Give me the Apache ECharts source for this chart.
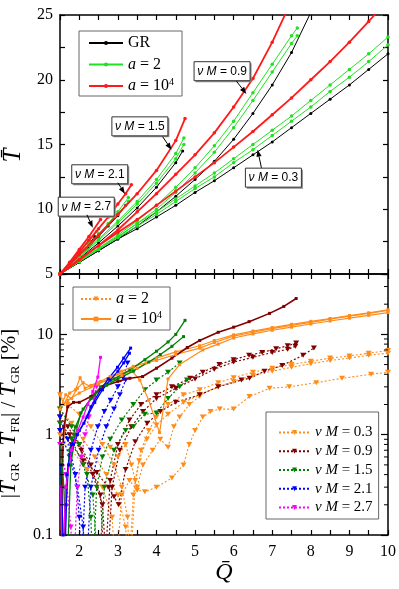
<!DOCTYPE html>
<html><head><meta charset="utf-8">
<script src="https://cdn.jsdelivr.net/npm/echarts@6/dist/echarts.min.js"></script>
<style>html,body{margin:0;padding:0;background:#fff}#c{width:399px;height:589px}</style>
</head><body><div id="c"></div>
<script>
// ---------------- axis ranges / ticks ----------------
const X_MIN = 1.5, X_MAX = 10;
const T_MIN = 5, T_MAX = 25;
const P_MIN = 0.1, P_MAX = 40;
const LOG_MINOR = [0.2,0.3,0.4,0.5,0.6,0.7,0.8,0.9,2,3,4,5,6,7,8,9,20,30];

// ---------------- top panel: T vs Q ----------------
const Q_FULL = [1.5,2,2.5,3,3.5,4,4.5,5,5.5,6,6.5,7,7.5,8,8.5,9,9.5,10];
const T_GR_03  = [5,5.9,6.8,7.7,8.5,9.4,10.3,11.3,12.2,13.2,14.2,15.2,16.3,17.4,18.5,19.6,20.8,22.0];
const T_A2_03a = [5,6.0,7.0,7.9,8.9,9.8,10.8,11.8,12.8,13.9,15.0,16.1,17.2,18.4,19.6,20.8,22.0,23.3];
const T_A2_03b = [5,5.95,6.9,7.8,8.7,9.6,10.6,11.6,12.5,13.6,14.6,15.7,16.8,17.9,19.1,20.2,21.4,22.7];
const T_A4_03  = [5,6.1,7.2,8.2,9.2,10.3,11.4,12.5,13.6,14.8,16.0,17.3,18.6,20.0,21.4,22.9,24.5,26.2];

const Q_09_GR = [1.5,2,2.5,3,3.5,4,4.5,5,5.5,6,6.5,7,7.5,8,8.5];
const T_GR_09 = [5,5.9,6.8,7.7,8.7,9.8,11.0,12.3,13.7,15.4,17.4,19.6,22.1,25.2,28.6];
const Q_09_A2 = [1.5,2,2.5,3,3.5,4,4.5,5,5.5,6,6.5,7,7.5,7.65];
const T_A2_09a = [5,6.0,7.0,8.0,9.1,10.3,11.7,13.2,14.9,16.8,19.0,21.2,23.4,24.0];
const T_A2_09b = [5,5.95,6.9,7.85,8.9,10.0,11.3,12.8,14.4,16.3,18.4,20.6,22.8,23.4];
const Q_09_A4 = [1.5,2,2.5,3,3.5,4,4.5,5,5.5,6,6.5,7,7.5];
const T_A4_09 = [5,6.1,7.2,8.4,9.8,11.2,12.7,14.2,15.9,17.9,20.1,22.9,26.1];

const Q_15_GR = [1.5,2,2.5,3,3.5,4,4.5,4.68];
const T_GR_15 = [5,6.2,7.4,8.7,10.1,11.7,13.6,14.5];
const Q_15_A2 = [1.5,2,2.5,3,3.5,4,4.5,4.71];
const T_A2_15a = [5,6.3,7.7,9.1,10.6,12.3,14.3,15.5];
const T_A2_15b = [5,6.25,7.6,8.95,10.4,12.0,13.9,15.0];
const Q_15_A4 = [1.5,2,2.5,3,3.5,4,4.5,4.74];
const T_A4_15 = [5,6.5,8.0,9.6,11.2,13.0,15.3,17.0];

const Q_21_GR = [1.5,1.75,2,2.25,2.5,2.75,3,3.2];
const T_GR_21 = [5,5.7,6.4,7.1,7.9,8.7,9.5,10.3];
const Q_21_A2 = [1.5,1.75,2,2.25,2.5,2.75,3,3.27];
const T_A2_21a = [5,5.75,6.5,7.3,8.1,8.9,9.8,10.9];
const T_A2_21b = [5,5.7,6.45,7.2,8.0,8.8,9.6,10.6];
const Q_21_A4 = [1.5,1.75,2,2.25,2.5,2.75,3,3.2,3.35];
const T_A4_21 = [5,5.8,6.7,7.6,8.5,9.4,10.4,11.2,11.9];

const Q_27_GR = [1.5,1.75,2,2.25,2.4];
const T_GR_27 = [5,5.75,6.5,7.3,7.9];
const Q_27_A2 = [1.5,1.75,2,2.25,2.45];
const T_A2_27 = [5,5.8,6.6,7.5,8.3];
const Q_27_A4 = [1.5,1.75,2,2.25,2.55];
const T_A4_27 = [5,5.9,6.9,7.9,9.2];

// annotation boxes (data coordinates)
const ANNO_TEXT = ['0.9','0.3','1.5','2.1','2.7'];
const ANNO_BOX  = [[5.70,20.66],[7.03,12.44],[3.57,16.4],[2.53,12.7],[2.18,10.2]];
const ANNO_FROM = [[6.07,19.9],[6.72,13.2],[4.16,15.6],[3.0,12.05],[2.2,9.57]];
const ANNO_TIP  = [[6.33,18.9],[6.62,14.6],[4.39,14.6],[3.18,11.2],[2.35,8.57]];

// ---------------- bottom panel: relative difference [%] ----------------
// nuM = 0.3, a = 1e4 (solid)
const BQ_OS1 = [1.5,1.6,1.75,1.9,2.02,2.15,2.3,2.55,2.8,3.1,3.4,3.73,4.0,4.5,5.12,5.5,6.0,6.5,7.0,7.5,8.0,8.5,9.0,9.5,10];
const BV_OS1 = [2.5,2.0,2.6,2.8,3.7,2.9,3.1,3.4,3.8,4.3,4.8,5.2,5.5,6.3,7.3,8.3,9.6,10.5,11.4,12.3,13.2,14.2,15.2,16.2,17.3];
const BQ_OS2 = [1.5,1.65,1.8,1.95,2.1,2.3,2.5,2.8,3.1,3.35,3.57,3.8,4.08,4.3,4.6,5.2,5.6,6.0,6.5,7.0,7.5,8.0,8.5,9.0,9.5,10];
const BV_OS2 = [1.8,2.5,2.3,2.9,3.3,3.0,3.3,3.5,3.9,4.4,3.5,2.2,1.05,3.6,5.0,7.0,8.0,9.2,10.1,11.0,11.8,12.7,13.6,14.5,15.5,16.5];
const BQ_OS3 = [1.52,1.58,1.7,2.0,2.5,3.0,3.5,4.0,4.5,5.12,5.5,6.0,6.5,7.0,7.5,8.0,8.5,9.0,9.5,10];
const BV_OS3 = [0.05,0.8,2.2,2.6,3.2,4.0,4.6,5.8,6.7,7.7,8.7,9.9,10.8,11.7,12.6,13.5,14.4,15.4,16.4,17.6];
// nuM = 0.3, a = 2 (dotted)
const BQ_OD1 = [1.5,1.7,2.0,2.3,2.6,2.9,3.1,3.25,3.32,3.45,3.6,3.8,4.0,4.3,4.7,5.12,5.6,6.0,6.5,7.0,7.5,8.0,8.5,9.0,9.5,10];
const BV_OD1 = [2.5,2.0,1.6,1.2,0.8,0.5,0.3,0.15,0.04,0.35,0.7,1.1,1.5,2.0,2.5,2.8,3.3,3.7,4.2,4.6,5.0,5.4,5.8,6.1,6.5,6.9];
const BQ_OD2 = [1.5,1.8,2.1,2.4,2.7,3.0,3.2,3.28,3.4,3.55,3.75,4.0,4.3,4.7,5.12,5.6,6.0,6.5,7.0,7.5,8.0,8.5,9.0,9.5,10];
const BV_OD2 = [1.8,1.3,0.9,0.6,0.4,0.25,0.12,0.04,0.25,0.55,0.9,1.25,1.6,2.1,2.5,3.0,3.4,3.9,4.3,4.7,5.1,5.5,5.8,6.2,6.5];
const BQ_OD3 = [1.5,1.8,2.2,2.6,2.85,2.95,3.1,3.3,3.5,3.7,4.0,4.4,4.7,4.85,5.0,5.2,5.4,5.64,6.0,6.41,6.93,7.44,8.14,8.81,9.56,10];
const BV_OD3 = [1.0,0.7,0.45,0.3,0.15,0.04,0.25,0.35,0.28,0.27,0.3,0.37,0.5,0.8,1.1,1.5,1.7,1.8,1.8,2.4,2.9,3.0,3.3,3.65,4.0,4.2];
const BQ_OD4 = [2.8,3.0,3.2,3.35,3.5,3.65,3.9,4.1,4.3,4.45,4.6,4.85,5.12];
const BV_OD4 = [0.75,0.6,0.8,0.5,0.3,0.5,0.7,0.9,0.75,1.2,1.5,2.0,2.4];
// nuM = 0.9
const BQ_RS1 = [1.52,1.56,1.6,1.7,1.85,2.0,2.3,2.6,3.0,3.31,3.64,4.0,4.4,4.8,5.12,5.6,6.0,6.4,6.93,7.3,7.62];
const BV_RS1 = [0.04,0.5,1.2,1.9,2.1,2.1,2.4,3.0,3.4,3.65,3.8,4.6,5.8,7.4,8.7,10.5,11.8,13.4,16.2,19.0,22.8];
const BQ_RD1 = [1.5,1.7,2.0,2.3,2.55,2.65,2.8,3.0,3.3,3.6,4.0,4.4,4.87,5.2,5.63,6.0,6.4,6.74,7.1,7.4,7.62];
const BV_RD1 = [1.5,1.2,0.8,0.5,0.25,0.04,0.35,0.8,1.4,2.0,2.5,3.0,3.65,4.2,5.0,5.6,6.2,6.6,7.2,7.7,8.2];
const BQ_RD2 = [1.5,1.75,2.05,2.35,2.6,2.72,2.85,3.05,3.35,3.65,4.0,4.5,5.0,5.5,6.0,6.5,7.0,7.4,7.6];
const BV_RD2 = [1.3,1.0,0.7,0.4,0.2,0.04,0.3,0.7,1.2,1.7,2.3,2.9,3.6,4.5,5.3,5.9,6.6,7.1,7.6];
const BQ_RD3 = [1.5,1.8,2.1,2.45,2.75,2.9,3.02,3.2,3.45,3.76,4.1,4.5,5.12,5.6,6.2,6.41,6.8,7.26,7.8,8.08];
const BV_RD3 = [1.1,0.8,0.55,0.42,0.3,0.24,0.2,0.45,0.85,1.3,1.7,2.1,2.5,3.0,3.5,3.65,4.3,4.9,6.2,7.3];
// nuM = 1.5
const BQ_GS1 = [1.52,1.6,1.68,1.78,1.9,2.04,2.3,2.55,2.9,3.31,3.7,4.0,4.3,4.5,4.74];
const BV_GS1 = [0.8,0.3,0.04,0.5,1.0,1.65,2.3,3.0,3.6,4.4,5.6,6.8,8.4,10.0,13.8];
const BQ_GS2 = [1.52,1.58,1.66,1.75,1.9,2.1,2.4,2.7,3.0,3.4,3.8,4.1,4.4,4.7];
const BV_GS2 = [0.5,0.04,0.3,0.7,1.2,1.8,2.5,3.1,3.6,4.3,5.3,6.3,7.6,9.5];
const BQ_GD1 = [1.5,1.8,2.0,2.2,2.3,2.35,2.45,2.6,2.8,3.1,3.4,3.7,4.0,4.3,4.6];
const BV_GD1 = [1.8,1.2,0.8,0.4,0.15,0.04,0.3,0.6,0.9,1.4,2.0,2.8,3.5,4.2,5.2];
const BQ_GD2 = [1.5,1.8,2.1,2.35,2.5,2.65,2.9,3.2,3.4,3.7,4.0,4.3,4.6,4.79];
const BV_GD2 = [1.3,0.9,0.5,0.25,0.04,0.3,0.7,1.1,1.2,1.6,1.65,2.3,3.0,3.5];
// nuM = 2.1
const BQ_BS1 = [1.52,1.58,1.62,1.68,1.8,1.95,2.12,2.3,2.55,2.75,2.99,3.15,3.33];
const BV_BS1 = [0.5,0.1,0.04,0.4,0.8,1.0,1.3,1.9,2.8,3.6,4.7,5.8,7.3];
const BQ_BS2 = [1.52,1.6,1.66,1.72,1.85,2.0,2.2,2.4,2.6,2.8,3.0,3.15,3.3];
const BV_BS2 = [0.3,0.04,0.2,0.5,0.8,1.1,1.5,2.1,2.8,3.5,4.3,5.2,6.5];
const BQ_BD1 = [1.5,1.7,1.9,2.0,2.05,2.15,2.3,2.48,2.65,2.81,3.0,3.13,3.25];
const BV_BD1 = [1.5,0.9,0.4,0.15,0.04,0.3,0.7,1.2,1.7,2.2,3.0,3.7,5.2];
const BQ_BD2 = [1.5,1.75,1.95,2.1,2.18,2.3,2.5,2.7,2.9,3.05,3.2];
const BV_BD2 = [1.1,0.6,0.3,0.12,0.04,0.3,0.7,1.2,1.8,2.5,3.5];
// nuM = 2.7
const BQ_MS1 = [1.52,1.56,1.65,1.8,1.96,2.1,2.22,2.35,2.48,2.55];
const BV_MS1 = [0.3,0.04,0.3,0.7,1.1,1.5,2.0,2.7,3.75,5.9];
const BQ_MD1 = [1.5,1.65,1.78,1.85,1.95,2.05,2.15,2.25,2.37,2.45];
const BV_MD1 = [0.8,0.4,0.12,0.04,0.3,0.6,1.0,1.5,2.3,3.0];

// ---------------- styling ----------------
const SERIF = "'Liberation Serif','DejaVu Serif',serif";
const SANS = "'Liberation Sans','DejaVu Sans',sans-serif";
const C_BLACK = '#000000', C_GREEN = '#22e022', C_RED = '#ff1a1a';
const C_OR = '#ff8c1a', C_DR = '#800000', C_GN = '#008000', C_BL = '#0000ff', C_MG = '#ff00ff';
const TRI = 'path://M0,0 L10,0 L5,8 Z';

const pairs = (q, v) => q.map((x, i) => [x, v[i]]);
const series = [];

function addTop(q, t, color, w, size, z) {
  series.push({type:'line', xAxisIndex:0, yAxisIndex:0, data:pairs(q,t), symbol:'circle', symbolSize:size,
    lineStyle:{color:color, width:w}, itemStyle:{color:color}, z:z, silent:true, animation:false});
}
function addBot(q, v, color, dotted, w) {
  series.push({type:'line', xAxisIndex:2, yAxisIndex:2, data:pairs(q,v),
    symbol: dotted ? TRI : 'rect', symbolSize: dotted ? [6,5] : 3,
    lineStyle:{color:color, width:w, type: dotted ? [2,2] : 'solid'}, itemStyle:{color:color},
    z: dotted ? 2 : 3, silent:true, animation:false});
}

// top: GR black, a=2 green, a=1e4 red
[[Q_FULL,T_GR_03],[Q_09_GR,T_GR_09],[Q_15_GR,T_GR_15],[Q_21_GR,T_GR_21],[Q_27_GR,T_GR_27]]
  .forEach(p => addTop(p[0], p[1], C_BLACK, 1, 3, 2));
[[Q_FULL,T_A2_03a],[Q_FULL,T_A2_03b],[Q_09_A2,T_A2_09a],[Q_09_A2,T_A2_09b],[Q_15_A2,T_A2_15a],[Q_15_A2,T_A2_15b],
 [Q_21_A2,T_A2_21a],[Q_21_A2,T_A2_21b],[Q_27_A2,T_A2_27]]
  .forEach(p => addTop(p[0], p[1], C_GREEN, 1, 3.5, 3));
[[Q_FULL,T_A4_03],[Q_09_A4,T_A4_09],[Q_15_A4,T_A4_15],[Q_21_A4,T_A4_21],[Q_27_A4,T_A4_27]]
  .forEach(p => addTop(p[0], p[1], C_RED, 1.8, 3.5, 4));

// bottom: dotted (a=2) then solid (a=1e4)
addBot(BQ_OD1,BV_OD1,C_OR,true,1.1); addBot(BQ_OD2,BV_OD2,C_OR,true,1.1);
addBot(BQ_OD3,BV_OD3,C_OR,true,1.1); addBot(BQ_OD4,BV_OD4,C_OR,true,1.1);
addBot(BQ_RD1,BV_RD1,C_DR,true,1.2); addBot(BQ_RD2,BV_RD2,C_DR,true,1.2); addBot(BQ_RD3,BV_RD3,C_DR,true,1.2);
addBot(BQ_GD1,BV_GD1,C_GN,true,1.2); addBot(BQ_GD2,BV_GD2,C_GN,true,1.2);
addBot(BQ_BD1,BV_BD1,C_BL,true,1.2); addBot(BQ_BD2,BV_BD2,C_BL,true,1.2);
addBot(BQ_MD1,BV_MD1,C_MG,true,1.2);
addBot(BQ_OS1,BV_OS1,C_OR,false,1.2); addBot(BQ_OS2,BV_OS2,C_OR,false,1.2); addBot(BQ_OS3,BV_OS3,C_OR,false,1.2);
addBot(BQ_RS1,BV_RS1,C_DR,false,1.6);
addBot(BQ_GS1,BV_GS1,C_GN,false,1.3); addBot(BQ_GS2,BV_GS2,C_GN,false,1.3);
addBot(BQ_BS1,BV_BS1,C_BL,false,1.3); addBot(BQ_BS2,BV_BS2,C_BL,false,1.3);
addBot(BQ_MS1,BV_MS1,C_MG,false,1.3);

// legend-only series
function legendSeries(name, grid, color, symbol, size, type) {
  series.push({type:'line', name:name, xAxisIndex:grid*2, yAxisIndex:grid*2, data:[], symbol:symbol, symbolSize:size,
    lineStyle:{color:color, width:1.2, type:type}, itemStyle:{color:color}, silent:true});
}
legendSeries('GR',0,C_BLACK,'circle',3,'solid');
legendSeries('a2',0,C_GREEN,'circle',3,'solid');
legendSeries('a4',0,C_RED,'circle',3,'solid');
legendSeries('b2',1,C_OR,TRI,6,[2,2]);
legendSeries('b4',1,C_OR,'rect',3,'solid');
legendSeries('n03',1,C_OR,TRI,6,[2,2]);
legendSeries('n09',1,C_DR,TRI,6,[2,2]);
legendSeries('n15',1,C_GN,TRI,6,[2,2]);
legendSeries('n21',1,C_BL,TRI,6,[2,2]);
legendSeries('n27',1,C_MG,TRI,6,[2,2]);

// annotations (custom series on top grid)
series.push({
  type:'custom', xAxisIndex:0, yAxisIndex:0, silent:true, clip:false, z:10,
  data: ANNO_BOX.map((b,i) => [b[0], b[1], ANNO_FROM[i][0], ANNO_FROM[i][1], ANNO_TIP[i][0], ANNO_TIP[i][1]]),
  encode:{x:[0,2,4], y:[1,3,5]},
  renderItem: function(params, api) {
    const i = params.dataIndex;
    const c = api.coord([api.value(0), api.value(1)]);
    const s = api.coord([api.value(2), api.value(3)]);
    const t = api.coord([api.value(4), api.value(5)]);
    const w = 56, h = 19;
    const dx = t[0]-s[0], dy = t[1]-s[1], L = Math.hypot(dx,dy) || 1;
    const ux = dx/L, uy = dy/L, hl = 7, hw = 2.6;
    const bx = t[0]-ux*hl, by = t[1]-uy*hl;
    return {type:'group', children:[
      {type:'rect', shape:{x:c[0]-w/2+1.5, y:c[1]-h/2+1.5, width:w, height:h}, style:{fill:'#8a8a8a'}},
      {type:'rect', shape:{x:c[0]-w/2, y:c[1]-h/2, width:w, height:h}, style:{fill:'#fff', stroke:'#333', lineWidth:1}},
      {type:'text', x:c[0], y:c[1]+0.5, style:{text:'{i|\u03bd M} = ' + ANNO_TEXT[i], fontFamily:SANS, fontSize:12, fill:'#000',
        align:'center', verticalAlign:'middle',
        rich:{i:{fontStyle:'italic', fontFamily:SANS, fontSize:12, fill:'#000'}}}},
      {type:'line', shape:{x1:s[0], y1:s[1], x2:bx, y2:by}, style:{stroke:'#000', lineWidth:1}},
      {type:'polygon', shape:{points:[[t[0],t[1]],[bx-uy*hw, by+ux*hw],[bx+uy*hw, by-ux*hw]]}, style:{fill:'#000'}}
    ]};
  }
});

// minor ticks for the log axis
series.push({
  type:'custom', xAxisIndex:2, yAxisIndex:2, silent:true, clip:false, z:5,
  data: LOG_MINOR.map(v => [X_MIN, v, X_MAX]),
  encode:{x:[0,2], y:1},
  renderItem: function(params, api) {
    const a = api.coord([api.value(0), api.value(1)]);
    const b = api.coord([api.value(2), api.value(1)]);
    return {type:'group', children:[
      {type:'line', shape:{x1:a[0], y1:a[1], x2:a[0]+4, y2:a[1]}, style:{stroke:'#000', lineWidth:1}},
      {type:'line', shape:{x1:b[0]-4, y1:b[1], x2:b[0], y2:b[1]}, style:{stroke:'#000', lineWidth:1}}
    ]};
  }
});

// ---------------- axes ----------------
const AXLINE = {show:true, onZero:false, lineStyle:{color:'#000', width:1.5}};
const LBL = {color:'#000', fontFamily:SERIF, fontSize:16};
function xAx(grid, pos, labels, extra) {
  return Object.assign({type:'value', gridIndex:grid, position:pos, min:X_MIN, max:X_MAX, interval:0.5,
    axisLine:AXLINE, axisTick:{show:true, inside:true, length:5, lineStyle:{color:'#000', width:1.2}},
    axisLabel: labels ? Object.assign({margin:9, formatter: v => Number.isInteger(v) ? String(v) : ''}, LBL) : {show:false},
    splitLine:{show:false}}, extra || {});
}
function yTop(pos, labels, extra) {
  return Object.assign({type:'value', gridIndex:0, position:pos, min:T_MIN, max:T_MAX, interval:2.5,
    axisLine:AXLINE, axisTick:{show:true, inside:true, length:5, lineStyle:{color:'#000', width:1.2}},
    axisLabel: labels ? Object.assign({margin:7, formatter: v => (v % 5 === 0 ? String(v) : '')}, LBL) : {show:false},
    splitLine:{show:false}}, extra || {});
}
function yBot(pos, labels, extra) {
  return Object.assign({type:'log', logBase:10, gridIndex:1, position:pos, min:P_MIN, max:P_MAX,
    axisLine:AXLINE, axisTick:{show:true, inside:true, length:7, lineStyle:{color:'#000', width:1.2}},
    axisLabel: labels ? Object.assign({margin:7, formatter: v => {
      const l = Math.log10(v); return Math.abs(l - Math.round(l)) < 1e-6 && v <= 10.0001 ? String(+v.toPrecision(3)) : ''; }}, LBL) : {show:false},
    splitLine:{show:false}, minorTick:{show:false}}, extra || {});
}

const legendFmt = {
  GR:'GR', a2:'{i|a} = 2', a4:'{i|a} = 10{sup|4}', b2:'{i|a} = 2', b4:'{i|a} = 10{sup|4}',
  n03:'{i|\u03bd M} = 0.3', n09:'{i|\u03bd M} = 0.9', n15:'{i|\u03bd M} = 1.5', n21:'{i|\u03bd M} = 2.1', n27:'{i|\u03bd M} = 2.7'
};
function legendText(fs, lh) {
  return {fontFamily:SERIF, fontSize:fs, color:'#000', lineHeight:lh,
    rich:{i:{fontFamily:SERIF, fontStyle:'italic', fontSize:fs, color:'#000', lineHeight:lh},
          sup:{fontFamily:SERIF, fontSize:10, color:'#000', verticalAlign:'top', lineHeight:10}}};
}

const option = {
  animation:false,
  backgroundColor:'#fff',
  textStyle:{fontFamily:SERIF},
  grid:[
    {left:60, right:11, top:15, height:259, outerBoundsMode:'none', containLabel:false},
    {left:60, right:11, top:274, height:261, outerBoundsMode:'none', containLabel:false}
  ],
  xAxis:[
    xAx(0,'bottom',false), xAx(0,'top',false),
    xAx(1,'bottom',true,{name:'Q\u0304', nameLocation:'middle', nameGap:23,
      nameTextStyle:{fontFamily:SERIF, fontStyle:'italic', fontSize:24, color:'#000'}}),
    xAx(1,'top',false)
  ],
  yAxis:[
    yTop('left',true,{name:'T\u0304', nameLocation:'middle', nameRotate:90, nameGap:24,
      nameTextStyle:{fontFamily:SERIF, fontStyle:'italic', fontSize:25, color:'#000', padding:[0,22,0,0]}}),
    yTop('right',false),
    yBot('left',true,{name:'|{i|T\u0304}{sub|GR} - {i|T\u0304}{sub|FR}| / {i|T\u0304}{sub|GR} [%]', nameLocation:'middle', nameRotate:90, nameGap:24,
      nameTextStyle:{fontFamily:SERIF, fontSize:21, color:'#000', lineHeight:26, padding:[0,18,0,0],
        rich:{i:{fontFamily:SERIF, fontStyle:'italic', fontSize:23, color:'#000', lineHeight:26},
              sub:{fontFamily:SERIF, fontSize:13, color:'#000', verticalAlign:'bottom', lineHeight:13}}}}),
    yBot('right',false)
  ],
  legend:[
    {data:['GR','a2','a4'], orient:'vertical', left:79, top:31, itemWidth:34, itemHeight:5, itemGap:3.5,
     padding:[3,8,1,9], borderColor:'#666', borderWidth:1, backgroundColor:'#fff', selectedMode:false,
     formatter: n => legendFmt[n], textStyle:legendText(16,18)},
    {data:['b2','b4'], orient:'vertical', left:73, top:287, itemWidth:30, itemHeight:6, itemGap:2,
     padding:[3,8,2,7], borderColor:'#666', borderWidth:1, backgroundColor:'#fff', selectedMode:false,
     formatter: n => legendFmt[n], textStyle:legendText(16,18)},
    {data:['n03','n09','n15','n21','n27'], orient:'vertical', left:266, top:412, itemWidth:31, itemHeight:6, itemGap:1.75,
     padding:[12,6,3,12], borderColor:'#666', borderWidth:1, backgroundColor:'#fff', selectedMode:false,
     formatter: n => legendFmt[n], textStyle:legendText(15,17)}
  ],
  series: series
};

const chart = echarts.init(document.getElementById('c'), null, {renderer:'canvas'});
chart.setOption(option);
</script>
</body></html>
